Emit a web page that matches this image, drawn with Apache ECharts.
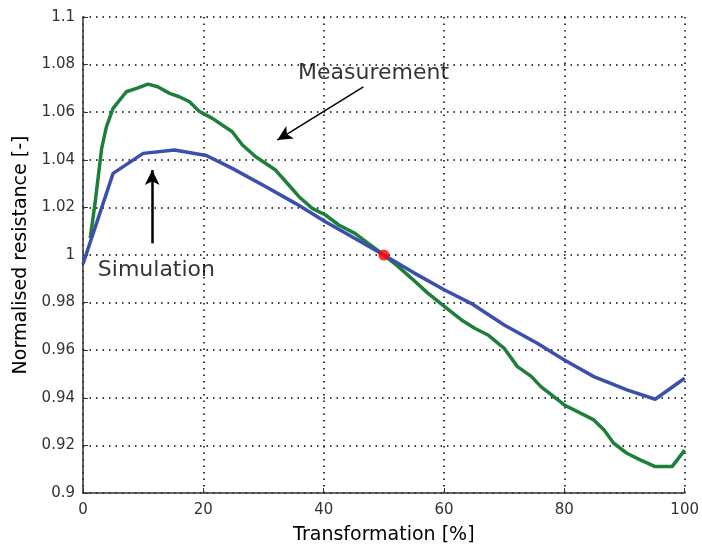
<!DOCTYPE html>
<html>
<head>
<meta charset="utf-8">
<title>Normalised resistance</title>
<script src="https://cdn.jsdelivr.net/npm/echarts@6/dist/echarts.min.js"></script>
<style>
  html, body { margin: 0; padding: 0; background: #fff; }
  #main { width: 702px; height: 550px; }
</style>
</head>
<body>
<div id="main"></div>
<script>
    // simulation (blue)
    var simX = [0, 5, 10, 15.2, 20.5, 24.8, 30.4, 35.3, 40.3, 44.7, 50, 55, 60.1, 64.5, 70, 75.5, 80, 84.9, 90.4, 95.1, 100];
    var simY = [0.9962, 1.0343, 1.0427, 1.0441, 1.0418, 1.0364, 1.0287, 1.0217, 1.014, 1.0077, 1.0, 0.9925, 0.9853, 0.9797, 0.9706, 0.9629, 0.9559, 0.9489, 0.9433, 0.9394, 0.9482];

    // measurement (green)
    var measX = [1.2, 2, 3.1, 3.9, 5, 7.2, 8.9, 10.8, 12.4, 14.4, 16, 17.7, 19.3, 21.5, 24.8, 26.5, 28.7, 32, 34.2, 35.9, 38.1, 40.3, 42.5, 45.2, 47.4, 50, 52.4, 54.6, 57.3, 60.1, 62.9, 65.1, 67.3, 70, 72.2, 74.5, 76.1, 80, 84.9, 86.6, 88.2, 90.4, 92.6, 95.1, 97.9, 100];
    var measY = [1.007, 1.0217, 1.0448, 1.0539, 1.0616, 1.0686, 1.070, 1.0718, 1.0707, 1.0679, 1.0665, 1.0644, 1.0604, 1.0574, 1.0518, 1.0462, 1.0413, 1.0357, 1.0294, 1.0245, 1.0196, 1.0168, 1.0126, 1.0091, 1.0049, 1.0, 0.9951, 0.9902, 0.984, 0.9783, 0.9727, 0.9692, 0.9664, 0.9608, 0.9531, 0.949, 0.9447, 0.937, 0.9307, 0.9265, 0.9209, 0.9167, 0.9139, 0.9111, 0.9111, 0.918];

    // crossing point
    var crossPoint = [50, 1.0];

    // annotations: [text, x, y] and arrows [x1, y1, x2, y2, width]
    var labels = [['Measurement', 48.3, 1.0765], ['Simulation', 12.2, 0.9937]];
    var arrows = [[46.6, 1.0706, 32.3, 1.0483, 1.5], [11.5, 1.0049, 11.5, 1.0357, 2.5]];

    var xTicks = [0, 20, 40, 60, 80, 100];
    var yTicks = [0.9, 0.92, 0.94, 0.96, 0.98, 1, 1.02, 1.04, 1.06, 1.08, 1.1];

    function pairs(xs, ys) {
        var out = [];
        for (var i = 0; i < xs.length; i++) out.push([xs[i], ys[i]]);
        return out;
    }

    var font = 'DejaVu Sans';
    var gridLine = { show: true, lineStyle: { color: '#000', width: 1.5, type: [1.5, 5] } };

    var myChart = echarts.init(document.getElementById('main'));
    var option = {
        animation: false,
        backgroundColor: '#fff',
        textStyle: { fontFamily: font },
        grid: { left: 83, right: 14, top: 17, bottom: 57, containLabel: false },
        xAxis: {
            type: 'value',
            min: xTicks[0],
            max: xTicks[xTicks.length - 1],
            interval: 20,
            name: 'Transformation [%]',
            nameLocation: 'middle',
            nameGap: 33,
            nameTextStyle: { fontSize: 19, color: '#000', fontFamily: font },
            axisLine: { show: true, lineStyle: { color: '#333', width: 1.5 } },
            axisTick: { show: true, inside: true, length: 5, lineStyle: { color: '#333' } },
            axisLabel: { fontSize: 15, color: '#333', margin: 10, fontFamily: font },
            splitLine: gridLine
        },
        yAxis: {
            type: 'value',
            min: yTicks[0],
            max: yTicks[yTicks.length - 1],
            interval: 0.02,
            name: 'Normalised resistance [-]',
            nameLocation: 'middle',
            nameGap: 47,
            nameTextStyle: { fontSize: 19, color: '#000', fontFamily: font },
            axisLine: { show: true, lineStyle: { color: '#333', width: 1.5 } },
            axisTick: { show: true, inside: true, length: 5, lineStyle: { color: '#333' } },
            axisLabel: {
                fontSize: 15, color: '#333', margin: 8, fontFamily: font,
                formatter: function (v) { return String(+v.toFixed(2)); }
            },
            splitLine: gridLine
        },
        series: [
            {
                name: 'Measurement',
                type: 'line',
                data: pairs(measX, measY),
                showSymbol: false,
                lineStyle: { color: '#1e7f38', width: 3.5 },
                z: 3
            },
            {
                name: 'Simulation',
                type: 'line',
                data: pairs(simX, simY),
                showSymbol: false,
                lineStyle: { color: '#3a4fae', width: 3.5 },
                z: 4,
                markLine: {
                    silent: true,
                    symbol: ['none', 'arrow'],
                    symbolSize: [11, 15],
                    label: { show: false },
                    data: arrows.map(function (a) {
                        return [
                            { coord: [a[0], a[1]], lineStyle: { color: '#000', width: a[4], type: 'solid' } },
                            { coord: [a[2], a[3]] }
                        ];
                    })
                }
            },
            {
                name: 'point',
                type: 'scatter',
                data: [crossPoint],
                symbolSize: 11,
                itemStyle: { color: '#ff0000' },
                z: 5
            },
            {
                name: 'labels',
                type: 'scatter',
                data: labels.map(function (l) { return { name: l[0], value: [l[1], l[2]] }; }),
                symbolSize: 1,
                itemStyle: { color: 'rgba(0,0,0,0)' },
                label: {
                    show: true,
                    position: 'inside',
                    formatter: '{b}',
                    fontSize: 22,
                    color: '#000',
                    textBorderWidth: 0,
                    fontFamily: font
                },
                z: 6
            }
        ]
    };
    myChart.setOption(option);
</script>
</body>
</html>
